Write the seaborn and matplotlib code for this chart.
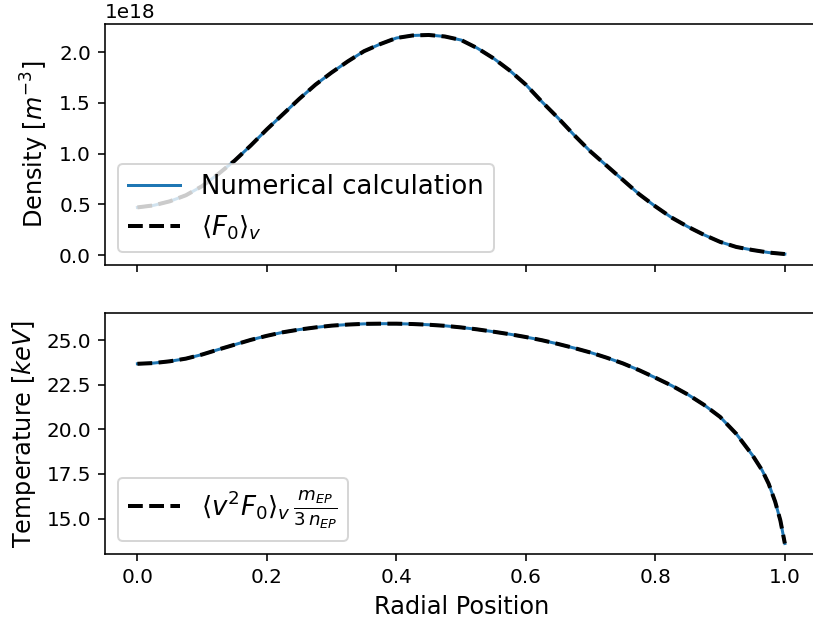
import numpy as np
import matplotlib
matplotlib.use("Agg")
import matplotlib.pyplot as plt
import seaborn as sns

# Radial grid (normalised minor radius)
radius = [0.000, 0.025, 0.050, 0.075, 0.100, 0.125, 0.150, 0.175, 0.200, 0.225,
          0.250, 0.275, 0.300, 0.325, 0.350, 0.375, 0.400, 0.425, 0.450, 0.475,
          0.500, 0.525, 0.550, 0.575, 0.600, 0.625, 0.650, 0.675, 0.700, 0.725,
          0.750, 0.775, 0.800, 0.825, 0.850, 0.875, 0.900, 0.925, 0.950, 0.975,
          1.000]

# Energetic-particle density profile, in units of 1e18 m^-3
density_1e18 = [0.47, 0.49, 0.53, 0.59, 0.68, 0.80, 0.93, 1.08, 1.24, 1.39,
                1.54, 1.68, 1.80, 1.91, 2.01, 2.08, 2.14, 2.165, 2.17, 2.155,
                2.12, 2.04, 1.94, 1.82, 1.68, 1.51, 1.35, 1.18, 1.02, 0.88,
                0.74, 0.60, 0.48, 0.37, 0.28, 0.20, 0.13, 0.08, 0.05, 0.025,
                0.01]

# Temperature profile on a grid refined near the edge [keV]
radius_t = [0.000, 0.025, 0.050, 0.075, 0.100, 0.125, 0.150, 0.175, 0.200, 0.225,
            0.250, 0.275, 0.300, 0.325, 0.350, 0.375, 0.400, 0.425, 0.450, 0.475,
            0.500, 0.525, 0.550, 0.575, 0.600, 0.625, 0.650, 0.675, 0.700, 0.725,
            0.750, 0.775, 0.800, 0.825, 0.850, 0.875, 0.900, 0.925, 0.950, 0.965,
            0.975, 0.985, 0.993, 1.000]
temperature_kev = [23.68, 23.72, 23.82, 23.97, 24.20, 24.48, 24.75, 25.02, 25.25, 25.45,
                   25.60, 25.72, 25.82, 25.88, 25.92, 25.93, 25.93, 25.91, 25.87, 25.81,
                   25.72, 25.61, 25.48, 25.34, 25.18, 25.00, 24.79, 24.56, 24.31, 24.02,
                   23.70, 23.32, 22.90, 22.46, 21.96, 21.38, 20.70, 19.75, 18.55, 17.70,
                   16.95, 15.95, 14.90, 13.60]

r = np.array(radius)
n_num = np.array(density_1e18) * 1e18
n_mom = np.array(density_1e18) * 1e18
rt = np.array(radius_t)
t_num = np.array(temperature_kev)
t_mom = np.array(temperature_kev)

plt.rcParams.update({
    "font.family": ["DejaVu Sans"],
    "font.size": 10,
    "axes.labelsize": 12,
    "legend.fontsize": 13,
    "mathtext.fontset": "dejavusans",
})

DPI = 144
fig, (ax1, ax2) = plt.subplots(2, 1, sharex=True, figsize=(813 / DPI, 624 / DPI), dpi=DPI)
ax1.set_position([0.1292, 0.5753, 0.876, 0.3862])
ax2.set_position([0.1292, 0.1114, 0.876, 0.3875])

blue = "#1f77b4"

# Density: numerical result and velocity moment of F0
sns.lineplot(x=r, y=n_num, ax=ax1, color=blue, linewidth=1.5,
             label="Numerical calculation", sort=False)
sns.lineplot(x=r, y=n_mom, ax=ax1, color="black", linestyle="--", linewidth=2,
             label=r"$\langle F_0\rangle_v$", sort=False)
ax1.set_ylabel(r"Density [$m^{-3}$]")
ax1.set_xlabel("")
ax1.legend(loc="lower left")

# Temperature: numerical result and second velocity moment
sns.lineplot(x=rt, y=t_num, ax=ax2, color=blue, linewidth=1.5, sort=False)
sns.lineplot(x=rt, y=t_mom, ax=ax2, color="black", linestyle="--", linewidth=2,
             label=r"$\langle v^2 F_0\rangle_v\,\frac{m_{EP}}{3\,n_{EP}}$", sort=False)
ax2.set_ylabel(r"Temperature [$keV$]")
ax2.set_xlabel("Radial Position")
ax2.legend(loc="lower left")

ax2.set_xticks([0.0, 0.2, 0.4, 0.6, 0.8, 1.0])
ax2.set_xlim(-0.05, 1.05)

fig.savefig("out.png", dpi=DPI)
